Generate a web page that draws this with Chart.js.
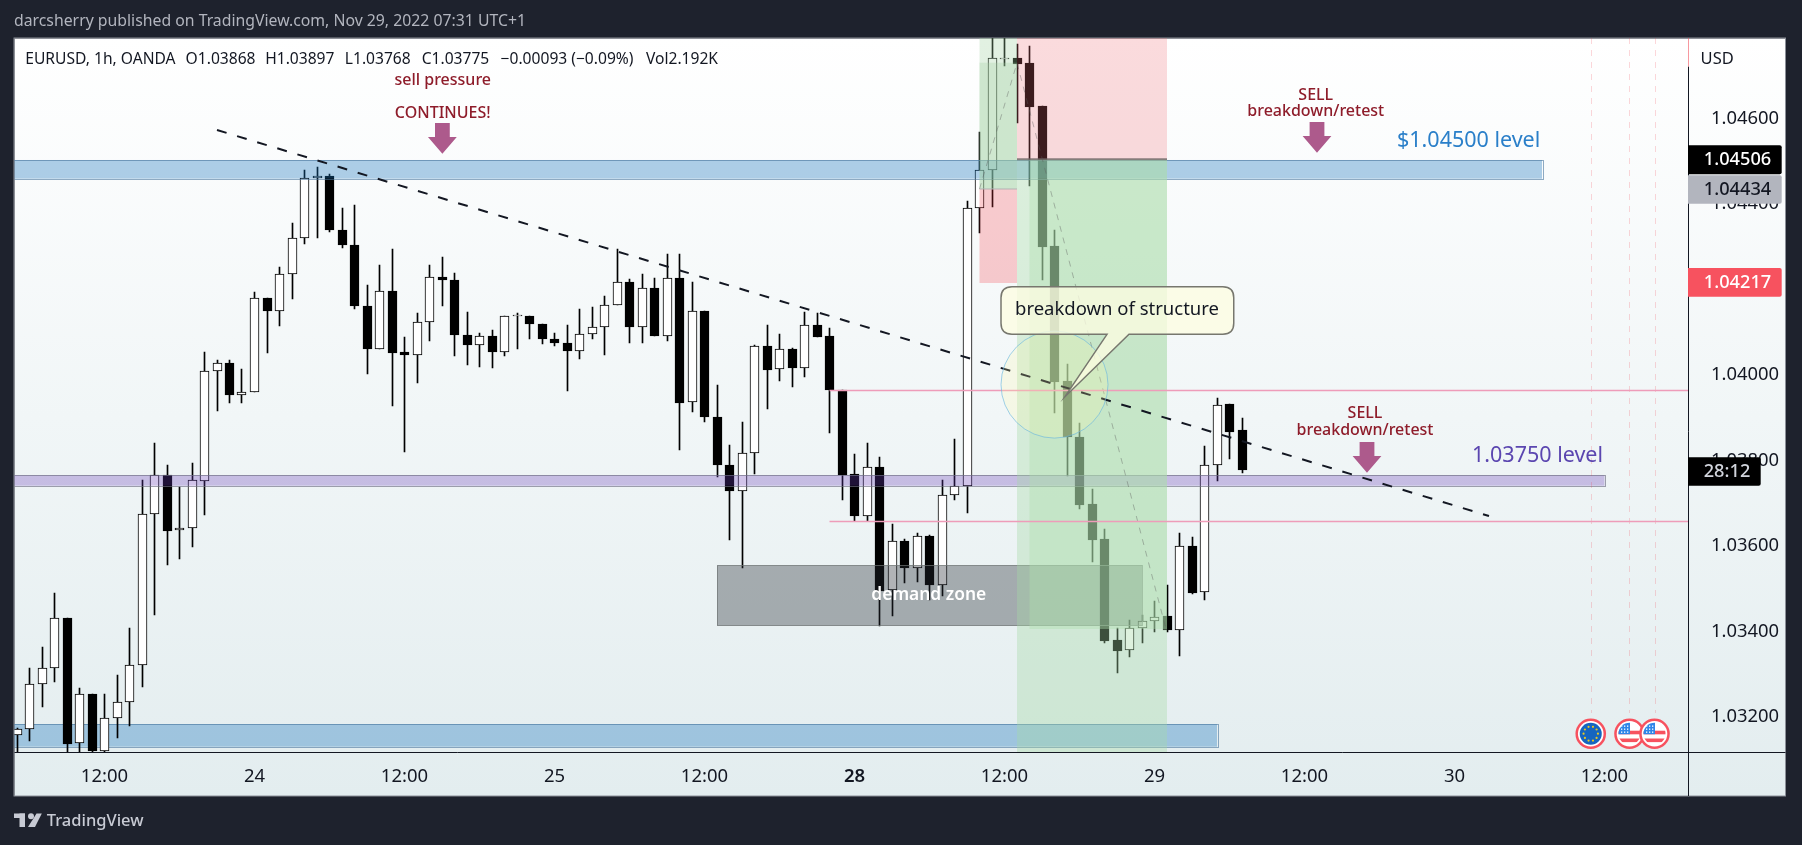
<!DOCTYPE html>
<html>
<head>
<meta charset="utf-8">
<title>EURUSD 1h</title>
<script src="https://cdn.jsdelivr.net/npm/chart.js@4"></script>
<style>
  html, body { margin: 0; padding: 0; background: #1e222d; }
  canvas { display: block; }
</style>
</head>
<body>
<canvas id="chart" width="1802" height="845"></canvas>
<script>
// EURUSD 1h candles, one entry per hour
const opens = [1.03154,1.03168,1.03274,1.03313,1.03430,1.03136,1.03250,1.03118,1.03196,1.03232,
  1.03318,1.03672,1.03763,1.03634,1.03639,1.03750,1.04006,1.04025,1.03952,1.03957,
  1.04177,1.04148,1.04233,1.04318,1.04458,1.04463,1.04338,1.04303,1.04160,1.04059,
  1.04194,1.04051,1.04045,1.04121,1.04226,1.04219,1.04092,1.04069,1.04090,1.04052,
  1.04135,1.04135,1.04116,1.04083,1.04073,1.04055,1.04093,1.04109,1.04161,1.04215,
  1.04109,1.04201,1.04090,1.04224,1.03934,1.04147,1.03899,1.03787,1.03725,1.03814,
  1.04065,1.04011,1.04058,1.04013,1.04114,1.04089,1.03962,1.03766,1.03668,1.03782,
  1.03494,1.03608,1.03547,1.03620,1.03505,1.03716,1.03737,1.04388,1.04477,1.04738,
  1.04740,1.04728,1.04627,1.04300,1.03983,1.03852,1.03695,1.03613,1.03377,1.03353,
  1.03405,1.03421,1.03433,1.03402,1.03597,1.03489,1.03786,1.03930,1.03868];
const highs = [1.03171,1.03311,1.03360,1.03487,1.03430,1.03264,1.03250,1.03250,1.03296,1.03405,
  1.03752,1.03839,1.03787,1.03736,1.03792,1.04051,1.04032,1.04032,1.04012,1.04191,
  1.04177,1.04250,1.04353,1.04478,1.04484,1.04468,1.04388,1.04395,1.04208,1.04254,
  1.04293,1.04087,1.04142,1.04254,1.04274,1.04236,1.04144,1.04095,1.04102,1.04135,
  1.04142,1.04135,1.04116,1.04095,1.04115,1.04151,1.04156,1.04183,1.04292,1.04222,
  1.04233,1.04224,1.04281,1.04281,1.04215,1.04147,1.03974,1.03834,1.03887,1.04069,
  1.04115,1.04093,1.04060,1.04145,1.04143,1.04107,1.03962,1.03813,1.03838,1.03805,
  1.03649,1.03613,1.03629,1.03623,1.03752,1.03849,1.04405,1.04566,1.04805,1.04797,
  1.04772,1.04768,1.04627,1.04337,1.04023,1.03885,1.03731,1.03637,1.03405,1.03424,
  1.03436,1.03469,1.03506,1.03627,1.03618,1.03831,1.03943,1.03930,1.03897];
const lows = [1.03104,1.03142,1.03221,1.03280,1.03097,1.03089,1.03112,1.03112,1.03149,1.03175,
  1.03268,1.03436,1.03554,1.03568,1.03594,1.03671,1.03914,1.03933,1.03931,1.03957,
  1.04050,1.04113,1.04176,1.04304,1.04319,1.04333,1.04296,1.04151,1.04001,1.04059,
  1.03926,1.03818,1.03980,1.04078,1.04158,1.04041,1.04020,1.04017,1.04013,1.04041,
  1.04059,1.04083,1.04071,1.04066,1.03961,1.04036,1.04083,1.04045,1.04161,1.04073,
  1.04073,1.04088,1.04078,1.03823,1.03912,1.03888,1.03760,1.03612,1.03547,1.03767,
  1.03917,1.03984,1.03970,1.03994,1.04087,1.03863,1.03704,1.03656,1.03656,1.03411,
  1.03434,1.03512,1.03514,1.03471,1.03480,1.03704,1.03675,1.04329,1.04390,1.04722,
  1.04588,1.04441,1.04219,1.03909,1.03762,1.03684,1.03561,1.03371,1.03301,1.03338,
  1.03370,1.03396,1.03395,1.03341,1.03485,1.03471,1.03750,1.03800,1.03768];
const closes = [1.03168,1.03274,1.03313,1.03430,1.03135,1.03250,1.03118,1.03196,1.03232,1.03318,
  1.03672,1.03763,1.03633,1.03639,1.03751,1.04006,1.04025,1.03952,1.03957,1.04177,
  1.04148,1.04233,1.04318,1.04458,1.04463,1.04338,1.04303,1.04160,1.04059,1.04194,
  1.04050,1.04045,1.04121,1.04226,1.04219,1.04092,1.04069,1.04090,1.04052,1.04135,
  1.04137,1.04116,1.04083,1.04073,1.04055,1.04093,1.04109,1.04161,1.04215,1.04109,
  1.04201,1.04090,1.04224,1.03933,1.04147,1.03899,1.03786,1.03725,1.03814,1.04065,
  1.04010,1.04058,1.04013,1.04114,1.04087,1.03962,1.03764,1.03668,1.03782,1.03493,
  1.03608,1.03547,1.03620,1.03505,1.03716,1.03737,1.04388,1.04477,1.04739,1.04739,
  1.04726,1.04626,1.04298,1.03982,1.03852,1.03694,1.03612,1.03376,1.03352,1.03405,
  1.03421,1.03432,1.03402,1.03597,1.03488,1.03786,1.03928,1.03865,1.03775];

// axis ticks: hour index for the time axis, price for the right axis
const timeTicks = [7, 19, 31, 43, 55, 67, 79, 91, 103, 115, 127];
const timeLabels = ['12:00', '24', '12:00', '25', '12:00', '28', '12:00', '29', '12:00', '30', '12:00'];
const priceTicks = [1.032, 1.034, 1.036, 1.038, 1.040, 1.042, 1.044, 1.046];

// legend strip
const legendTexts = ['EURUSD, 1h, OANDA', 'O1.03868', 'H1.03897', 'L1.03768', 'C1.03775', '\u22120.00093 (\u22120.09%)', 'Vol2.192K'];
const legendLefts = [25.3, 185.6, 265.2, 344.8, 421.7, 500.6, 646];

// drawings, in hour index and price
const upperBand = { from: -1, to: 122, top: 1.045009, bottom: 1.044571, fill: 'rgba(25,118,190,0.35)', line: 'rgba(70,115,155,0.6)' };
const lowerBand = { from: -1, to: 96, top: 1.031808, bottom: 1.031277, fill: 'rgba(25,118,190,0.35)', line: 'rgba(70,115,155,0.6)' };
const purpleBand = { from: -1, to: 127, top: 1.037636, bottom: 1.037386, fill: 'rgba(103,58,183,0.3)', line: 'rgba(110,110,130,0.65)' };
const pinkLevels = [1.039626, 1.036566];
const pinkFrom = 65;
const eventHours = [125.9, 129, 131];
const eventFlags = ['eu', 'us', 'us'];

function xp(chart, i) { return chart.scales.x.getPixelForValue(i); }
function yp(chart, p) { return chart.scales.y.getPixelForValue(p); }

function box(ctx, chart, i0, i1, p0, p1, fill, line) {
  const x0 = xp(chart, i0), x1 = xp(chart, i1), y0 = yp(chart, p0), y1 = yp(chart, p1);
  ctx.fillStyle = fill;
  ctx.fillRect(x0, y0, x1 - x0, y1 - y0);
  if (line) {
    ctx.strokeStyle = line;
    ctx.lineWidth = 1;
    ctx.strokeRect(Math.round(x0) + 0.5, Math.round(y0) + 0.5, Math.round(x1 - x0), Math.round(y1 - y0));
  }
}

function band(ctx, chart, b) {
  box(ctx, chart, b.from, b.to, b.top, b.bottom, b.fill, b.line);
}

function seg(ctx, x0, y0, x1, y1, color, width, dash) {
  ctx.beginPath();
  ctx.setLineDash(dash || []);
  ctx.strokeStyle = color;
  ctx.lineWidth = width;
  ctx.moveTo(x0, y0);
  ctx.lineTo(x1, y1);
  ctx.stroke();
  ctx.setLineDash([]);
}

function label(ctx, text, x, y, font, color, align) {
  ctx.font = font;
  ctx.fillStyle = color;
  ctx.textAlign = align || 'center';
  ctx.textBaseline = 'middle';
  ctx.fillText(text, x, y);
}

function downArrow(ctx, chart, i, p) {
  const x = xp(chart, i), tip = yp(chart, p);
  ctx.fillStyle = '#ad5a8c';
  ctx.beginPath();
  ctx.moveTo(x, tip);
  ctx.lineTo(x - 14.4, tip - 16.7);
  ctx.lineTo(x - 7.4, tip - 16.7);
  ctx.lineTo(x - 7.4, tip - 30.7);
  ctx.lineTo(x + 7.4, tip - 30.7);
  ctx.lineTo(x + 7.4, tip - 16.7);
  ctx.lineTo(x + 14.4, tip - 16.7);
  ctx.closePath();
  ctx.fill();
}

function flag(ctx, x, y, kind) {
  ctx.save();
  ctx.beginPath();
  ctx.arc(x, y, 15.3, 0, Math.PI * 2);
  ctx.fillStyle = '#f7525f';
  ctx.fill();
  ctx.beginPath();
  ctx.arc(x, y, 12.8, 0, Math.PI * 2);
  ctx.fillStyle = '#ffffff';
  ctx.fill();
  ctx.beginPath();
  ctx.arc(x, y, 11, 0, Math.PI * 2);
  ctx.clip();
  if (kind === 'eu') {
    ctx.fillStyle = '#1565c0';
    ctx.fillRect(x - 12, y - 12, 24, 24);
    ctx.fillStyle = '#e9c81f';
    for (let a = 0; a < 10; a++) {
      ctx.beginPath();
      ctx.arc(x + 7.2 * Math.cos(a * Math.PI / 5), y + 7.2 * Math.sin(a * Math.PI / 5), 1.1, 0, Math.PI * 2);
      ctx.fill();
    }
  } else {
    ctx.fillStyle = '#ffffff';
    ctx.fillRect(x - 12, y - 12, 24, 24);
    ctx.fillStyle = '#f7525f';
    ctx.fillRect(x - 12, y - 3, 24, 3.6);
    ctx.fillRect(x - 12, y + 4.8, 24, 3.6);
    ctx.fillStyle = '#2f86e8';
    ctx.fillRect(x - 12, y - 12, 12.5, 12.5);
    ctx.fillStyle = '#ffffff';
    for (let r = 0; r < 3; r++) {
      for (let c = 0; c < 3; c++) {
        ctx.fillRect(x - 8.5 + c * 3, y - 8.2 + r * 3, 1.3, 1.3);
      }
    }
  }
  ctx.restore();
}

function priceTag(ctx, text, y0, y1, right, fill, color, cx) {
  ctx.fillStyle = fill;
  ctx.beginPath();
  ctx.roundRect(1688, y0, right - 1688, y1 - y0, [0, 2, 2, 0]);
  ctx.fill();
  label(ctx, text, cx, (y0 + y1) / 2 + 0.5, '500 18.2px "Noto Sans"', color);
}

function tvLogo(ctx) {
  ctx.fillStyle = '#c8cbd4';
  ctx.fillRect(14, 813.5, 11, 4.5);
  ctx.fillRect(19.5, 813.5, 5.5, 13.5);
  ctx.beginPath();
  ctx.arc(31, 816.3, 3, 0, Math.PI * 2);
  ctx.fill();
  ctx.beginPath();
  ctx.moveTo(36.5, 813.5);
  ctx.lineTo(41.8, 813.5);
  ctx.lineTo(35, 827);
  ctx.lineTo(28, 827);
  ctx.closePath();
  ctx.fill();
  label(ctx, 'TradingView', 46.7, 821, '500 16.5px "Noto Sans"', '#c8cbd4', 'left');
}

// page, panel and the texts that sit outside the scales
const framePlugin = {
  id: 'frame',
  beforeDraw(chart) {
    const ctx = chart.ctx;
    ctx.save();
    ctx.fillStyle = '#1e222d';
    ctx.fillRect(0, 0, 1802, 845);
    const g = ctx.createLinearGradient(0, 38, 0, 796);
    g.addColorStop(0, '#ffffff');
    g.addColorStop(1, '#e3edef');
    ctx.fillStyle = g;
    ctx.fillRect(14.5, 38.5, 1771, 757.5);
    ctx.strokeStyle = '#8b8f98';
    ctx.lineWidth = 1;
    ctx.strokeRect(14, 38, 1771.5, 758);
    label(ctx, 'darcsherry published on TradingView.com, Nov 29, 2022 07:31 UTC+1', 14, 21, '15.8px "Noto Sans"', '#b2b5be', 'left');
    tvLogo(ctx);
    ctx.restore();
  },
  // the lower band lies behind the candles
  beforeDatasetsDraw(chart) {
    const a = chart.chartArea;
    const ctx = chart.ctx;
    ctx.save();
    ctx.beginPath();
    ctx.rect(a.left, a.top, a.right - a.left, a.bottom - a.top);
    ctx.clip();
    band(ctx, chart, lowerBand);
    ctx.restore();
  },
  // keep the candles on whole pixels so the 1px wicks stay sharp
  afterDatasetsUpdate(chart) {
    chart.data.datasets.forEach((d, n) => {
      chart.getDatasetMeta(n).data.forEach(el => {
        el.x = Math.floor(el.x) + 0.5;
        el.y = Math.round(el.y);
        el.base = Math.round(el.base);
      });
    });
  }
};

// everything that lies over the candles
const drawingsPlugin = {
  id: 'drawings',
  afterDatasetsDraw(chart) {
    const ctx = chart.ctx;
    const a = chart.chartArea;
    const topP = chart.scales.y.max, botP = chart.scales.y.min;
    ctx.save();
    ctx.beginPath();
    ctx.rect(a.left, a.top, a.right - a.left, a.bottom - a.top);
    ctx.clip();

    // level bands
    band(ctx, chart, upperBand);
    band(ctx, chart, purpleBand);

    // demand zone
    box(ctx, chart, 56, 90, 1.035523, 1.034109, 'rgba(40,44,52,0.36)', 'rgba(110,115,115,0.7)');

    // event lines
    eventHours.forEach(i => {
      seg(ctx, Math.round(xp(chart, i)) + 0.5, a.top, Math.round(xp(chart, i)) + 0.5, 713, 'rgba(242,54,69,0.2)', 1, [6, 6]);
    });

    // long position
    box(ctx, chart, 77, 80, topP, 1.04433, 'rgba(161,210,161,0.31)');
    box(ctx, chart, 77, 80, 1.047286, 1.04433, 'rgba(161,210,161,0.3)');
    box(ctx, chart, 77, 80, 1.04433, 1.04213, 'rgba(242,54,69,0.25)');
    seg(ctx, xp(chart, 77), yp(chart, 1.04433), xp(chart, 80), yp(chart, 1.04433), '#b4b4b4', 1);

    // short positions
    box(ctx, chart, 80, 92, topP, 1.045025, 'rgba(240,112,120,0.25)');
    box(ctx, chart, 80, 92, 1.045025, botP, 'rgba(165,216,165,0.37)');
    box(ctx, chart, 81, 92, 1.045025, 1.034032, 'rgba(175,222,175,0.4)');
    seg(ctx, xp(chart, 80), yp(chart, 1.045025), xp(chart, 92), yp(chart, 1.045025), 'rgba(110,100,100,0.8)', 2);

    // projected path
    ctx.beginPath();
    ctx.setLineDash([6, 6]);
    ctx.strokeStyle = 'rgba(90,90,90,0.4)';
    ctx.lineWidth = 1;
    ctx.moveTo(xp(chart, 77), yp(chart, 1.04433));
    ctx.lineTo(xp(chart, 80), yp(chart, 1.04728));
    ctx.lineTo(xp(chart, 91.9), yp(chart, 1.034055));
    ctx.stroke();
    ctx.setLineDash([]);

    // pink levels
    pinkLevels.forEach(p => {
      seg(ctx, xp(chart, pinkFrom), Math.round(yp(chart, p)) + 0.5, a.right, Math.round(yp(chart, p)) + 0.5, '#ee9cb9', 1.5);
    });

    // trend line
    seg(ctx, xp(chart, 16), yp(chart, 1.045711), xp(chart, 117.76), yp(chart, 1.036676), '#131722', 2, [10, 11]);

    // circle
    ctx.beginPath();
    ctx.arc(xp(chart, 83), yp(chart, 1.039752), 53.5, 0, Math.PI * 2);
    ctx.fillStyle = 'rgba(255,250,170,0.22)';
    ctx.fill();
    ctx.strokeStyle = 'rgba(100,180,225,0.6)';
    ctx.lineWidth = 1;
    ctx.stroke();

    // callout
    const cx0 = xp(chart, 78.72), cx1 = xp(chart, 97.34), cy0 = yp(chart, 1.042043), cy1 = yp(chart, 1.040929);
    const r = 11;
    ctx.beginPath();
    ctx.moveTo(cx0 + r, cy0);
    ctx.lineTo(cx1 - r, cy0);
    ctx.quadraticCurveTo(cx1, cy0, cx1, cy0 + r);
    ctx.lineTo(cx1, cy1 - r);
    ctx.quadraticCurveTo(cx1, cy1, cx1 - r, cy1);
    ctx.lineTo(xp(chart, 88.96), cy1);
    ctx.lineTo(xp(chart, 83.84), yp(chart, 1.039469));
    ctx.lineTo(xp(chart, 87.2), cy1);
    ctx.lineTo(cx0 + r, cy1);
    ctx.quadraticCurveTo(cx0, cy1, cx0, cy1 - r);
    ctx.lineTo(cx0, cy0 + r);
    ctx.quadraticCurveTo(cx0, cy0, cx0 + r, cy0);
    ctx.closePath();
    ctx.fillStyle = 'rgba(253,253,226,0.78)';
    ctx.fill();
    ctx.strokeStyle = '#77776e';
    ctx.lineWidth = 1.5;
    ctx.stroke();
    label(ctx, 'breakdown of structure', xp(chart, 88), yp(chart, 1.041498), '18.5px "Noto Sans"', '#131722');

    // arrows and notes
    downArrow(ctx, chart, 34.03, 1.045156);
    downArrow(ctx, chart, 104, 1.04518);
    downArrow(ctx, chart, 108, 1.03769);
    const red = '#8e1c2a';
    const noteFont = '500 16px "Noto Sans"';
    label(ctx, 'sell pressure', xp(chart, 34.06), yp(chart, 1.046881), noteFont, red);
    label(ctx, 'CONTINUES!', xp(chart, 34.06), yp(chart, 1.046109), noteFont, red);
    label(ctx, 'SELL', xp(chart, 103.9), yp(chart, 1.04653), noteFont, red);
    label(ctx, 'breakdown/retest', xp(chart, 103.9), yp(chart, 1.046156), noteFont, red);
    label(ctx, 'SELL', xp(chart, 107.84), yp(chart, 1.03908), noteFont, red);
    label(ctx, 'breakdown/retest', xp(chart, 107.84), yp(chart, 1.038682), noteFont, red);
    label(ctx, '$1.04500 level', xp(chart, 110.4), yp(chart, 1.045453), '21.5px "Noto Sans"', '#2a7fc9', 'left');
    label(ctx, '1.03750 level', xp(chart, 116.4), yp(chart, 1.038081), '21.5px "Noto Sans"', '#5b46b0', 'left');
    label(ctx, 'demand zone', xp(chart, 72.94), yp(chart, 1.034827), '600 17.4px "Noto Sans"', '#ffffff');

    // event flags
    eventHours.forEach((i, n) => flag(ctx, xp(chart, i), yp(chart, 1.031581), eventFlags[n]));
    ctx.restore();

    // axis lines
    ctx.save();
    seg(ctx, a.left, 752.5, 1785.5, 752.5, '#131722', 1);
    seg(ctx, 1688.5, 38, 1688.5, 66.7, 'rgba(242,84,95,0.6)', 1);
    seg(ctx, 1688.5, 66.7, 1688.5, 796, '#131722', 1);

    // legend strip
    legendTexts.forEach((t, n) => label(ctx, t, legendLefts[n], 59.5, '15.6px "Noto Sans"', '#131722', 'left'));
    label(ctx, 'USD', 1700.6, 59, '16.5px "Noto Sans"', '#131722', 'left');

    // price tags sit over the tick labels
    priceTag(ctx, '1.04506', 145.3, 174.3, 1781.7, '#000000', '#ffffff', 1737.5);
    priceTag(ctx, '1.04434', 175.3, 203.7, 1781.7, '#b2b5be', '#131722', 1737.5);
    priceTag(ctx, '1.04217', 268, 296.7, 1781.7, '#f7525f', '#ffffff', 1737.5);
    priceTag(ctx, '28:12', 457.3, 485.7, 1760.7, '#000000', '#d1d4dc', 1727);
    ctx.restore();
  }
};

new Chart(document.getElementById('chart'), {
  type: 'bar',
  data: {
    datasets: [
      {
        label: 'wick',
        data: opens.map((o, i) => ({ x: i, y: [lows[i], highs[i]] })),
        backgroundColor: '#000000',
        barThickness: 1,
        grouped: false,
        order: 2
      },
      {
        label: 'body',
        data: opens.map((o, i) => ({ x: i, y: [Math.min(o, closes[i]), Math.max(o, closes[i])] })),
        backgroundColor: opens.map((o, i) => (closes[i] >= o ? '#ffffff' : '#000000')),
        borderColor: '#000000',
        borderWidth: 1,
        borderSkipped: false,
        barThickness: 9,
        grouped: false,
        order: 1
      }
    ]
  },
  options: {
    responsive: false,
    animation: false,
    layout: { padding: { left: 14.5, top: 38, right: 16.5, bottom: 49 } },
    plugins: { legend: { display: false }, tooltip: { enabled: false } },
    scales: {
      x: {
        type: 'linear',
        offset: false,
        min: -0.2,
        max: 133.68,
        grid: { display: false, offset: false },
        border: { display: false },
        afterBuildTicks(scale) { scale.ticks = timeTicks.map(v => ({ value: v })); },
        afterFit(scale) { scale.height = 44; },
        ticks: {
          autoSkip: false,
          maxRotation: 0,
          padding: 6,
          color: '#131722',
          font: ctx => ({ family: '"Noto Sans"', size: 18.5, weight: ctx.tick && ctx.tick.value === 67 ? '600' : '400' }),
          callback: value => timeLabels[timeTicks.indexOf(value)]
        }
      },
      y: {
        position: 'right',
        min: 1.031153,
        max: 1.047864,
        grid: { display: false },
        border: { display: false },
        afterBuildTicks(scale) { scale.ticks = priceTicks.map(v => ({ value: v })); },
        afterFit(scale) { scale.width = 97.5; },
        ticks: {
          autoSkip: false,
          padding: 15,
          labelOffset: 1,
          color: '#131722',
          font: { family: '"Noto Sans"', size: 18.4 },
          callback: value => value.toFixed(5)
        }
      }
    }
  },
  plugins: [framePlugin, drawingsPlugin]
});
</script>
</body>
</html>
